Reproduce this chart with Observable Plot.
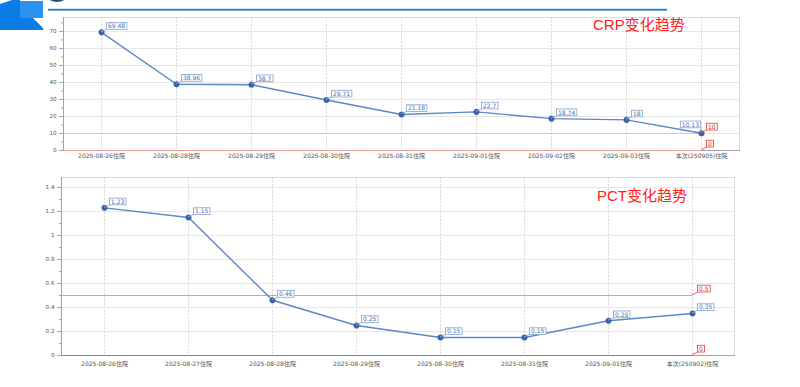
<!DOCTYPE html>
<html>
<head>
<meta charset="utf-8">
<script src="https://cdn.jsdelivr.net/npm/d3@7"></script>
<script src="https://cdn.jsdelivr.net/npm/@observablehq/plot@0.6"></script>
<style>
  html, body { margin: 0; padding: 0; background: #fff; }
  body { width: 800px; height: 387px; overflow: hidden; position: relative; font-family: "DejaVu Sans", sans-serif; }
  #deco { position: absolute; left: 0; top: 0; z-index: 3; }
  #crp { position: absolute; left: 0; top: 0; z-index: 1; }
  #pct { position: absolute; left: 0; top: 165px; z-index: 1; }
  .title { position: absolute; z-index: 4; color: #ff2020; font-family: "Liberation Sans", "Noto Sans CJK SC", sans-serif; font-size: 15px; line-height: 1; white-space: nowrap; }
</style>
</head>
<body>
<svg id="deco" width="680" height="31">
  <polygon points="0,4 12,0 20,0 20,18 33,18 43,28 43,30 0,30" fill="#0b7be6"></polygon>
  <rect x="20" y="1" width="23" height="17" fill="#2b92f2"></rect>
  <circle cx="57" cy="-12" r="14" fill="#2c5176"></circle>
  <rect x="48" y="8.8" width="619" height="1.8" fill="#1f7ad6"></rect>
</svg>
<div id="crp"></div>
<div id="pct"></div>
<div class="title" style="left:593px;top:16.5px;">CRP变化趋势</div>
<div class="title" style="left:597px;top:187.5px;">PCT变化趋势</div>
<script>
// ---- CRP data ----
const crpDates = ["2025-08-26住院","2025-08-28住院","2025-08-29住院","2025-08-30住院","2025-08-31住院","2025-09-01住院","2025-09-02住院","2025-09-03住院","本次(250905)住院"];
const crpValues = [69.48, 38.96, 38.7, 29.71, 21.18, 22.7, 18.74, 18, 10.13];
const crpLimits = [10, 0];
const crpTicks = [0, 10, 20, 30, 40, 50, 60, 70];
const crpMinorTicks = [5, 15, 25, 35, 45, 55, 65, 75];

// ---- PCT data ----
const pctDates = ["2025-08-26住院","2025-08-27住院","2025-08-28住院","2025-08-29住院","2025-08-30住院","2025-08-31住院","2025-09-01住院","本次(250902)住院"];
const pctValues = [1.23, 1.15, 0.46, 0.25, 0.15, 0.15, 0.29, 0.35];
const pctLimits = [0.5, 0];
const pctTicks = [0, 0.2, 0.4, 0.6, 0.8, 1, 1.2, 1.4];
const pctMinorTicks = [0.1, 0.3, 0.5, 0.7, 0.9, 1.1, 1.3];

function drawChart(el, cfg) {
  const data = cfg.dates.map((date, i) => ({date, value: cfg.values[i]}));
  const first = cfg.dates[0];
  const last = cfg.dates[cfg.dates.length - 1];
  const lim = cfg.limits.map((v, i) => ({v, from: first, date: last, i}));
  const normal = cfg.flipLast ? data.slice(0, -1) : data;
  const flipped = cfg.flipLast ? data.slice(-1) : [];
  const halfStep = (800 - cfg.ml - cfg.mr) / cfg.dates.length / 2;

  const labelMarks = [];
  const specs = [];
  labelMarks.push(Plot.text(normal, {x: "date", y: "value", text: d => String(d.value), textAnchor: "start", lineAnchor: "bottom", dx: 6.5, dy: -4, fill: "#4a70ae", fontSize: 6}));
  specs.push({rows: normal, y: d => d.value, anchor: "start", stroke: "#8eabd6"});
  if (flipped.length) {
    labelMarks.push(Plot.text(flipped, {x: "date", y: "value", text: d => String(d.value), textAnchor: "end", lineAnchor: "bottom", dx: -2.5, dy: -6.5, fill: "#4a70ae", fontSize: 6}));
    specs.push({rows: flipped, y: d => d.value, anchor: "end", stroke: "#8eabd6"});
  }
  labelMarks.push(Plot.text(lim, {x: "date", y: "v", text: d => String(d.v), textAnchor: "start", lineAnchor: "bottom", dx: 6.5, dy: -4.5, fill: "#e02626", fontSize: 6}));
  specs.push({rows: lim, y: d => d.v, anchor: "start", stroke: "#e65050"});

  const chart = Plot.plot({
    width: 800,
    height: cfg.height,
    marginTop: cfg.mt, marginBottom: cfg.mb, marginLeft: cfg.ml, marginRight: cfg.mr,
    style: {fontFamily: '"DejaVu Sans","Noto Sans CJK SC",sans-serif', fontSize: "6px", color: "#555", background: "#fff"},
    x: {type: "point", domain: cfg.dates, padding: 0.5, label: null},
    y: {domain: cfg.yDomain, label: null},
    marks: [
      Plot.gridY(cfg.yTicks, {stroke: "#e6e6e6", strokeOpacity: 1}),
      Plot.gridX({stroke: "#d6d6d6", strokeOpacity: 1, strokeDasharray: "2,1.5"}),
      Plot.frame({stroke: "#dcdcdc"}),
      Plot.frame({anchor: "left", stroke: "#a3a3a3"}),
      Plot.frame({anchor: "bottom", stroke: "#a3a3a3"}),
      Plot.axisY(cfg.yTicks, {tickSize: 4, tickPadding: 3, stroke: "#a3a3a3", fill: "#555", fontSize: 5.6, tickFormat: d => String(d), label: null}),
      Plot.axisY(cfg.yMinor, {tickSize: 2, stroke: "#a3a3a3", tickFormat: () => "", label: null}),
      Plot.axisX({tickSize: 0, tickPadding: cfg.xPad, fill: "#555", fontSize: 6, label: null}),
      ...lim.map(d => Plot.ruleY([d], {y: "v", x1: "from", x2: "date", insetLeft: -halfStep, stroke: cfg.limitColors[d.i], strokeWidth: 1})),
      Plot.line(data, {x: "date", y: "value", stroke: "#5b87c7", strokeWidth: 1.4}),
      Plot.dot(data, {x: "date", y: "value", r: 2.8, fill: "#3a62a7", stroke: "#3a62a7", strokeWidth: 0.4}),
      ...labelMarks
    ]
  });
  el.appendChild(chart);

  // boxes and leader lines for the value labels
  const sx = chart.scale("x"), sy = chart.scale("y");
  const groups = chart.querySelectorAll('g[aria-label="text"]');
  const ns = "http://www.w3.org/2000/svg";
  const rootInv = chart.getScreenCTM().inverse();
  groups.forEach((g, gi) => {
    const spec = specs[gi];
    if (!spec) return;
    g.querySelectorAll("text").forEach(t => {
      const i = t.__data__;
      const row = spec.rows[i];
      const bb = t.getBBox();
      const M = rootInv.multiply(t.getScreenCTM());
      const bx = bb.x + M.e - 1.5, by = bb.y + M.f + 0.3, bw = bb.width + 3, bh = bb.height - 0.3;
      const px = sx.apply(row.date), py = sy.apply(spec.y(row));
      const cx = spec.anchor === "start" ? bx : bx + bw;
      const cy = by + bh;
      const line = document.createElementNS(ns, "line");
      line.setAttribute("x1", px); line.setAttribute("y1", py);
      line.setAttribute("x2", cx); line.setAttribute("y2", cy);
      line.setAttribute("stroke", spec.stroke); line.setAttribute("stroke-width", "0.9");
      const rect = document.createElementNS(ns, "rect");
      rect.setAttribute("x", bx); rect.setAttribute("y", by);
      rect.setAttribute("width", bw); rect.setAttribute("height", bh);
      rect.setAttribute("fill", "#fff"); rect.setAttribute("stroke", spec.stroke); rect.setAttribute("stroke-width", "0.9");
      g.parentNode.insertBefore(line, g);
      g.parentNode.insertBefore(rect, g);
    });
  });
}

drawChart(document.getElementById("crp"), {
  dates: crpDates, values: crpValues, limits: crpLimits,
  limitColors: ["#f5bcbc", "#eea3a3"],
  yDomain: [0, 78.2], yTicks: crpTicks, yMinor: crpMinorTicks,
  height: 165, mt: 17, mb: 15, ml: 63, mr: 61, xPad: 3, flipLast: true
});

drawChart(document.getElementById("pct"), {
  dates: pctDates, values: pctValues, limits: pctLimits,
  limitColors: ["#f29494", "#c96868"],
  yDomain: [0, 1.483], yTicks: pctTicks, yMinor: pctMinorTicks,
  height: 222, mt: 12, mb: 32, ml: 61, mr: 66, xPad: 6, flipLast: false
});
</script>
</body>
</html>
